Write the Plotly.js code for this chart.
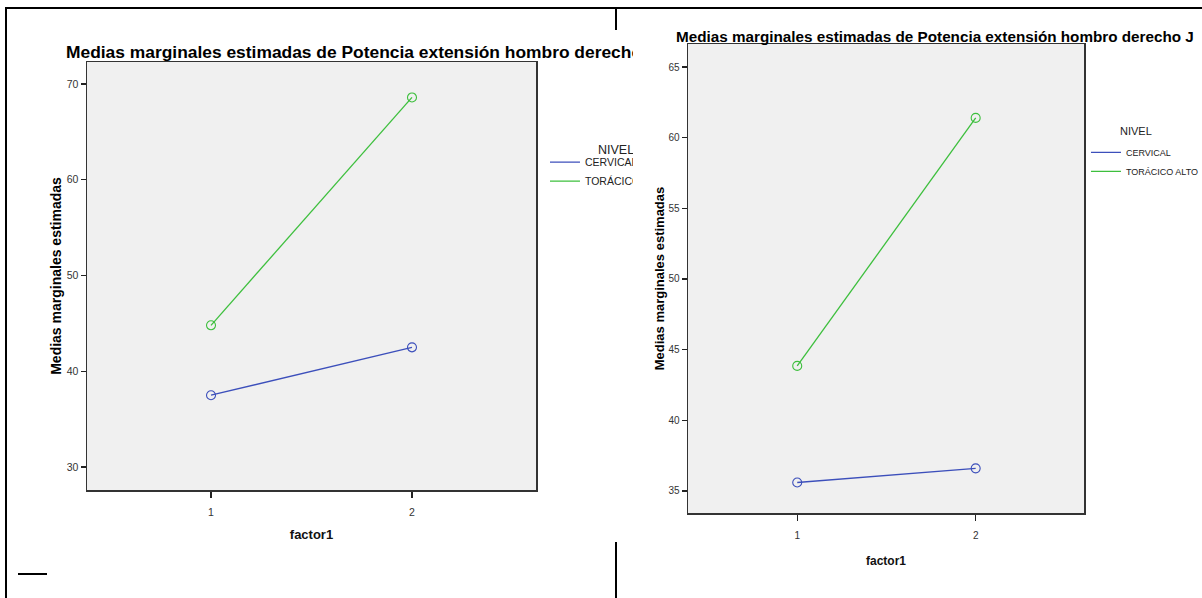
<!DOCTYPE html>
<html>
<head>
<meta charset="utf-8">
<script src="https://cdn.plot.ly/plotly-3.0.1.min.js"></script>
<style>
  html, body { margin: 0; padding: 0; width: 1202px; height: 598px; overflow: hidden; background: #fff; }
  .rule { position: absolute; background: #000; }
  .clip { position: absolute; overflow: hidden; background: #fff; }
</style>
</head>
<body>
<div class="rule" style="left:5px; top:7px; width:1197px; height:2px;"></div>
<div class="rule" style="left:5px; top:7px; width:2px; height:591px;"></div>
<div class="rule" style="left:615px; top:7px; width:2px; height:591px;"></div>
<div class="rule" style="left:18px; top:573px; width:29px; height:1.5px;"></div>

<div class="clip" style="left:9px; top:30px; width:624px; height:512px;"><div id="left"></div></div>
<div class="clip" style="left:633px; top:20px; width:640px; height:560px;"><div id="right"></div></div>

<script>
// ---- data ----
const factorLevels = [1, 2];
const seriesNames = ['CERVICAL', 'TORÁCICO ALTO'];
const leftCervical = [37.5, 42.5];
const leftToracico = [44.8, 68.6];
const rightCervical = [35.6, 36.6];
const rightToracico = [43.85, 61.4];
const leftYTicks = [30, 40, 50, 60, 70];
const rightYTicks = [35, 40, 45, 50, 55, 60, 65];
const xTickLabels = ['1', '2'];
const leftTitle = 'Medias marginales estimadas de Potencia extensión hombro derecho';
const rightTitle = 'Medias marginales estimadas de Potencia extensión hombro derecho J';
const yTitle = 'Medias marginales estimadas';
const xTitle = 'factor1';
const legendTitle = 'NIVEL';

const FONT = 'Liberation Sans, Arial, Helvetica, sans-serif';
const NARROW = 'Liberation Sans Narrow, Arial Narrow, Liberation Sans, Arial, sans-serif';
const BLUE = '#3c4fbb';
const GREEN = '#3dbf3d';
const colors = [BLUE, GREEN];

function traces(seriesValues) {
  const out = [];
  seriesValues.forEach((vals, i) => {
    out.push({
      x: factorLevels, y: vals, type: 'scatter', mode: 'lines+markers',
      line: {color: colors[i], width: 1.3},
      marker: {symbol: 'circle-open', size: 9, color: colors[i], line: {width: 1.1, color: colors[i]}},
      showlegend: false, hoverinfo: 'skip'
    });
    out.push({
      x: [null], y: [null], type: 'scatter', mode: 'lines', name: seriesNames[i],
      line: {color: colors[i], width: 1.3}, showlegend: true, hoverinfo: 'skip'
    });
  });
  return out;
}

function makeLayout(o) {
  return {
    width: o.w, height: o.h,
    margin: {l: o.l, r: o.r, t: o.t, b: o.b, pad: 0},
    paper_bgcolor: 'rgba(0,0,0,0)',
    plot_bgcolor: '#f0f0f0',
    showlegend: true,
    font: {family: FONT, color: '#222'},
    title: {
      text: o.title, xref: 'container', yref: 'container',
      x: o.titleX, y: o.titleY, xanchor: 'left', yanchor: 'middle',
      font: {family: FONT, size: o.titleSize, color: '#000', weight: 'bold'}
    },
    xaxis: {
      range: o.xr, tickmode: 'array', tickvals: factorLevels, ticktext: xTickLabels,
      ticks: 'outside', ticklen: 6, tickwidth: 1.3, tickcolor: '#222',
      ticklabelstandoff: 6,
      showgrid: false, zeroline: false,
      showline: true, mirror: true, linecolor: '#333', linewidth: 1.5,
      tickfont: {family: FONT, size: o.tickSize, color: '#333'},
      title: {text: xTitle, standoff: o.xStand, font: {family: FONT, size: o.xTitleSize, color: '#111', weight: 'bold'}},
      fixedrange: true
    },
    yaxis: {
      range: o.yr, tickmode: 'array', tickvals: o.yticks,
      ticks: 'outside', ticklen: 5, tickwidth: 1.3, tickcolor: '#222',
      showgrid: false, zeroline: false,
      showline: true, mirror: true, linecolor: '#333', linewidth: 1.5,
      tickfont: {family: FONT, size: o.tickSize, color: '#333'},
      title: {text: yTitle, standoff: o.yStand, font: {family: NARROW, size: o.yTitleSize, color: '#000', weight: 'bold'}},
      fixedrange: true
    },
    legend: {
      x: o.legX, y: o.legY, xanchor: 'left', yanchor: 'top',
      bgcolor: 'rgba(0,0,0,0)', borderwidth: 0,
      font: {family: FONT, size: o.legSize, color: '#222'},
      itemwidth: 30, tracegroupgap: 0
    },
    annotations: [{
      text: legendTitle, xref: 'paper', yref: 'paper', x: o.nivX, y: o.nivY,
      xanchor: 'center', yanchor: 'middle', showarrow: false,
      font: {family: FONT, size: o.nivSize, color: '#222'}
    }]
  };
}

const cfg = {staticPlot: true, displayModeBar: false};

Plotly.newPlot('left', traces([leftCervical, leftToracico]), makeLayout({
  w: 760, h: 512, l: 78, r: 233, t: 32, b: 52,
  title: leftTitle, titleX: 57 / 760, titleY: 1 - 22 / 512, titleSize: 17.4,
  xr: [0.383, 2.617], yr: [27.6, 72.3], yticks: leftYTicks,
  tickSize: 10.5, xTitleSize: 13, yTitleSize: 14,
  xStand: 14, yStand: 2,
  legSize: 10.5, nivSize: 12.5,
  legX: 1.02, legY: 0.80, nivX: 1.178, nivY: 0.794
}), cfg);

Plotly.newPlot('right', traces([rightCervical, rightToracico]), makeLayout({
  w: 640, h: 560, l: 55, r: 189, t: 24, b: 67,
  title: rightTitle, titleX: 43 / 640, titleY: 1 - 17 / 560, titleSize: 15.25,
  xr: [0.388, 2.607], yr: [33.44, 66.63], yticks: rightYTicks,
  tickSize: 10, xTitleSize: 12, yTitleSize: 13,
  xStand: 17, yStand: 1,
  legSize: 9, nivSize: 11,
  legX: 1.005, legY: 0.80, nivX: 1.131, nivY: 0.815
}), cfg);
</script>
</body>
</html>
